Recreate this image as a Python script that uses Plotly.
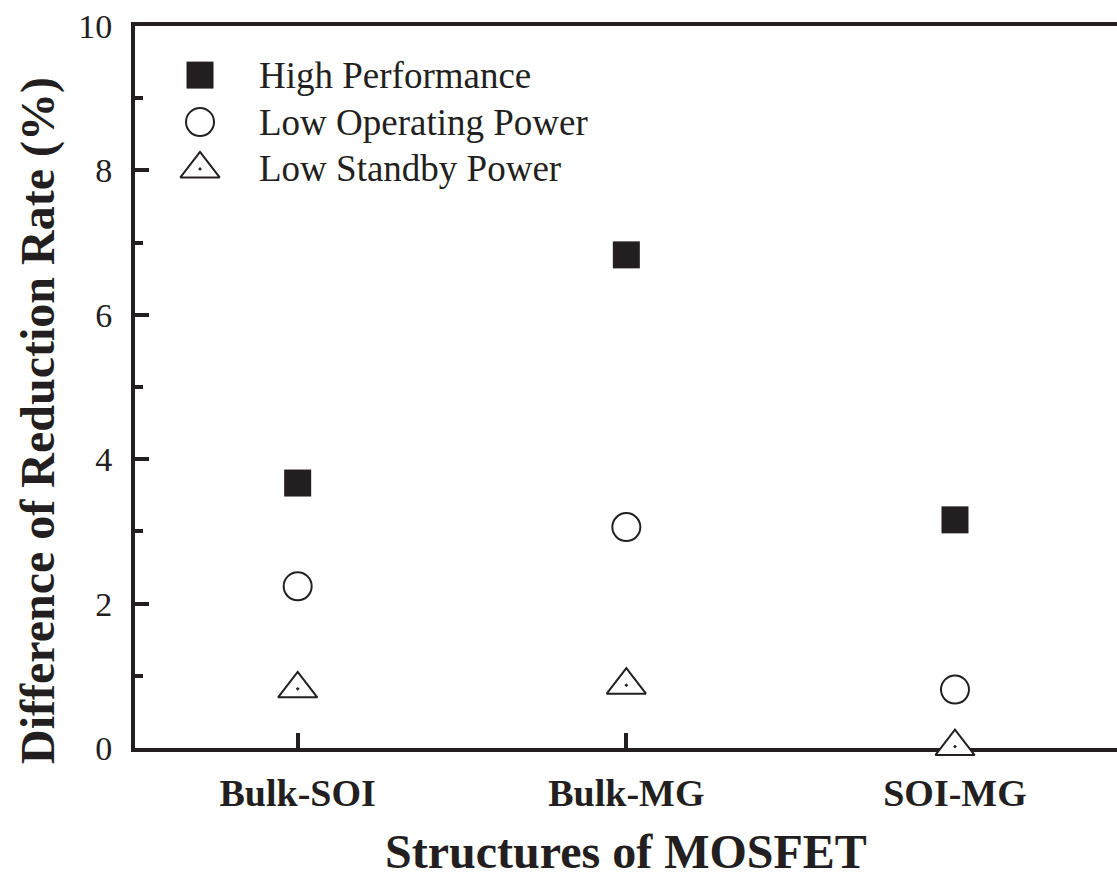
import plotly.graph_objects as go

# Structures compared and the three device applications
structures = ["Bulk-SOI", "Bulk-MG", "SOI-MG"]
high_performance = [3.67, 6.83, 3.16]
low_operating_power = [2.24, 3.06, 0.81]
low_standby_power = [0.82, 0.87, 0.02]
series_names = ["High Performance", "Low Operating Power", "Low Standby Power"]
y_ticks = [0, 2, 4, 6, 8, 10]

INK = "#231f20"
SERIF = "Liberation Serif, Times New Roman, serif"

x_pos = list(range(1, len(structures) + 1))

styles = [
    dict(symbol="square", size=27, color=INK, line=dict(width=0, color=INK)),
    dict(symbol="circle", size=28, color="white", line=dict(width=2, color=INK)),
    dict(symbol="triangle-up-dot", size=34, color="white", line=dict(width=2, color=INK)),
]
values = [high_performance, low_operating_power, low_standby_power]

fig = go.Figure()
for name, vals, st in zip(series_names, values, styles):
    fig.add_trace(go.Scatter(
        x=x_pos, y=vals, mode="markers", name=name,
        marker=st, cliponaxis=False, showlegend=False,
    ))

# Hand-built key in the upper-left corner (overlay axes in 0..1 units)
key_x, text_x = 0.0662, 0.1242
key_rows = [0.932, 0.867, 0.802]
for name, st, ky in zip(series_names, styles, key_rows):
    fig.add_trace(go.Scatter(
        x=[key_x], y=[ky], mode="markers", xaxis="x2", yaxis="y2",
        marker=st, showlegend=False, hoverinfo="skip",
    ))
    fig.add_annotation(
        x=text_x, y=ky, xref="paper", yref="paper", text=name,
        showarrow=False, xanchor="left", yanchor="middle",
        font=dict(family=SERIF, size=37, color=INK),
    )

# Rotated y-axis title
fig.add_annotation(
    x=-0.099, y=0.454, xref="paper", yref="paper",
    text="Difference of Reduction Rate (%)", textangle=-90,
    showarrow=False, xanchor="center", yanchor="middle",
    font=dict(family=SERIF, size=48, color=INK, weight="bold"),
)

fig.update_layout(
    width=1117, height=878,
    margin=dict(l=135, r=0, t=26, b=130),
    paper_bgcolor="white", plot_bgcolor="white",
    showlegend=False,
    xaxis=dict(
        range=[0.505, 3.493], tickvals=x_pos, ticktext=structures,
        showgrid=False, zeroline=False,
        showline=True, linewidth=4, linecolor=INK, mirror=True,
        ticks="inside", ticklen=15, tickwidth=4, tickcolor=INK,
        tickfont=dict(family=SERIF, size=38, color=INK, weight="bold"),
        ticklabelstandoff=8,
        layer="below traces",
        title=dict(text="Structures of MOSFET", standoff=28,
                   font=dict(family=SERIF, size=48, color=INK, weight="bold")),
    ),
    yaxis=dict(
        range=[0, 10], tickvals=y_ticks,
        showgrid=False, zeroline=False,
        showline=True, linewidth=4, linecolor=INK,
        ticks="inside", ticklen=14, tickwidth=4, tickcolor=INK,
        minor=dict(dtick=1, ticks="inside", ticklen=8, tickwidth=4, tickcolor=INK),
        tickfont=dict(family=SERIF, size=34, color=INK),
        ticklabelstandoff=12,
        layer="below traces",
    ),
    xaxis2=dict(range=[0, 1], overlaying="x", visible=False, fixedrange=True),
    yaxis2=dict(range=[0, 1], overlaying="y", visible=False, fixedrange=True),
)

fig.write_html("out.html")
